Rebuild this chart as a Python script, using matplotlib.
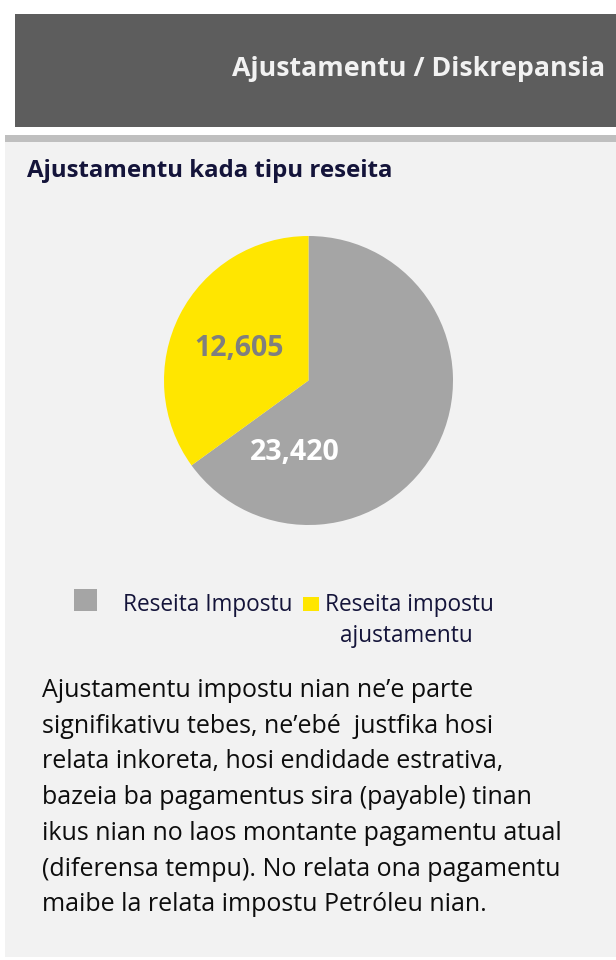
import matplotlib
matplotlib.use("Agg")
import matplotlib.pyplot as plt
from matplotlib.patches import Rectangle

header_title = "Ajustamentu / Diskrepansia"
chart_title = "Ajustamentu kada tipu reseita"
categories = ["Reseita Impostu", "Reseita impostu\najustamentu"]
values = [23420, 12605]
value_labels = ["23,420", "12,605"]
body_lines = [
    "Ajustamentu impostu nian ne\u2019e parte",
    "signifikativu tebes, ne\u2019eb\u00e9  justfika hosi",
    "relata inkoreta, hosi endidade estrativa,",
    "bazeia ba pagamentus sira (payable) tinan",
    "ikus nian no laos montante pagamentu atual",
    "(diferensa tempu). No relata ona pagamentu",
    "maibe la relata impostu Petr\u00f3leu nian.",
]

colors = ["#a5a5a5", "#ffe600"]
label_colors = ["white", "#7f7f7f"]
FONT = ["Open Sans", "DejaVu Sans"]
NAVY = "#14143a"

W, H = 616, 960
fig = plt.figure(figsize=(W / 100, H / 100), dpi=100)
fig.patch.set_facecolor("white")

def px(x, y):
    return x / W, 1 - y / H

def rect(x0, y0, x1, y1, color):
    fig.add_artist(Rectangle(px(x0, y1), (x1 - x0) / W, (y1 - y0) / H,
                             transform=fig.transFigure, facecolor=color,
                             edgecolor="none", zorder=-10))

# header box, separator, panel
rect(15, 14, W, 127, "#5d5d5d")
rect(5, 135, W, 142, "#bfbfbf")
rect(5, 142, W, 957, "#f2f2f2")

fig.text(*px(605, 76), header_title, ha="right", va="baseline", color="#f2f2f2",
         fontsize=19.3, fontweight="bold", family=FONT)
fig.text(*px(27, 177), chart_title, ha="left", va="baseline", color=NAVY,
         fontsize=17.3, fontweight="bold", family=FONT)

# pie
cx, cy, r = 308.5, 380.5, 144.5
ax = fig.add_axes([(cx - r) / W, 1 - (cy + r) / H, 2 * r / W, 2 * r / H])
ax.patch.set_alpha(0)
ax.pie(values, colors=colors, startangle=90, counterclock=False,
       wedgeprops=dict(linewidth=0))
ax.set_aspect("equal")
ax.set_xlim(-1, 1)
ax.set_ylim(-1, 1)
ax.axis("off")
ax.text(-0.093, -0.495, value_labels[0], ha="center", va="center", color=label_colors[0],
        fontsize=20.5, fontweight="bold", family=FONT)
ax.text(-0.48, 0.218, value_labels[1], ha="center", va="center", color=label_colors[1],
        fontsize=20.5, fontweight="bold", family=FONT)

# legend
rect(74, 589, 97, 611, colors[0])
fig.text(*px(123, 611), categories[0], ha="left", va="baseline", color=NAVY,
         fontsize=16.3, family=FONT)
rect(303, 597, 319, 611, colors[1])
l1, l2 = categories[1].split("\n")
fig.text(*px(325, 611), l1, ha="left", va="baseline", color=NAVY,
         fontsize=16.3, family=FONT)
fig.text(*px(340, 642), l2, ha="left", va="baseline", color=NAVY,
         fontsize=16.3, family=FONT)

# body text
y0, dy = 697, 35.7
for i, line in enumerate(body_lines):
    fig.text(*px(42, y0 + i * dy), line, ha="left", va="baseline", color="#0d0d0d",
             fontsize=18, family=FONT)

fig.savefig("out.png", dpi=100, facecolor="white")
